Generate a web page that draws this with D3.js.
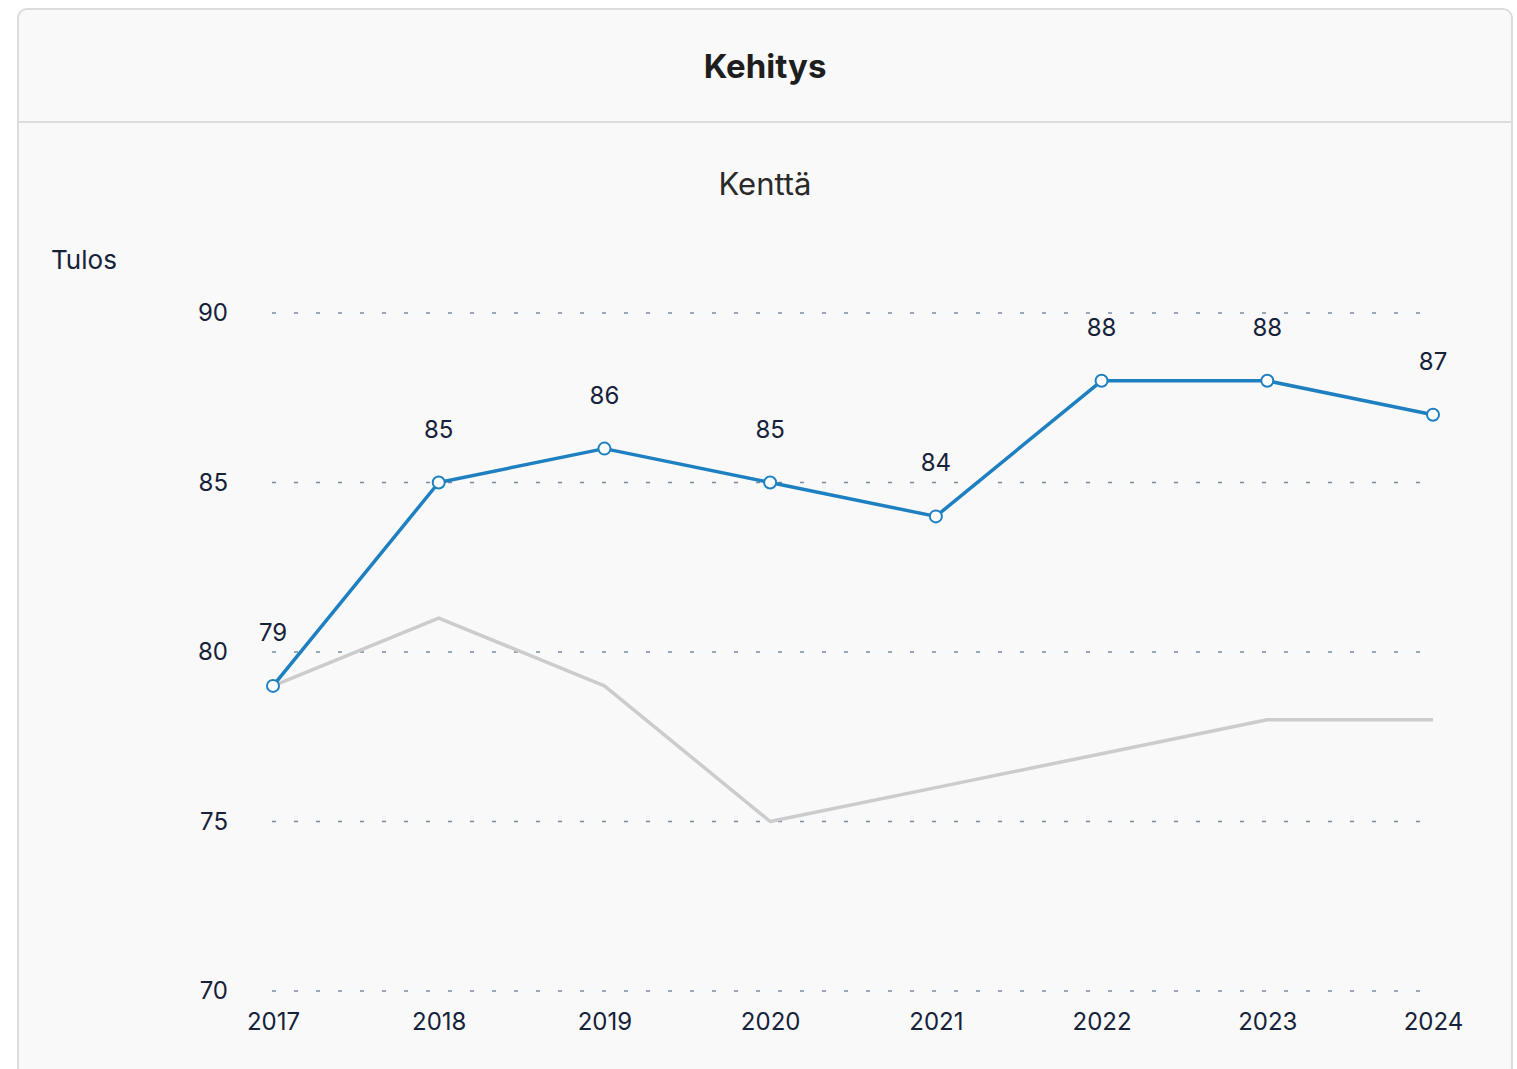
<!DOCTYPE html>
<html>
<head>
<meta charset="utf-8">
<script src="https://cdn.jsdelivr.net/npm/d3@7"></script>
<style>
  html, body { margin: 0; padding: 0; background: #fff; overflow: hidden; }
  body { width: 1517px; height: 1069px; font-family: Inter, "Noto Sans", sans-serif; }
  .card {
    position: absolute; left: 17px; top: 8px; width: 1496px; height: 1100px;
    background: #f9f9f9; border: 2px solid #dcdcdc; border-radius: 10px; box-sizing: border-box;
  }
  .card-head {
    height: 111px; border-bottom: 2px solid #dcdcdc; display: flex; align-items: center; justify-content: center;
    font-weight: 700; font-size: 33px; color: #1e1e1e;
  }
  svg { position: absolute; left: 0; top: 0; }
</style>
</head>
<body>
<div class="card"><div class="card-head">Kehitys</div></div>
<div id="chart"></div>
<script>
// data
var years = ["2017", "2018", "2019", "2020", "2021", "2022", "2023", "2024"];
var kentta = [79, 85, 86, 85, 84, 88, 88, 87];
var vertailu = [79, 81, 79, 75, 76, 77, 78, 78];
var yTicks = [70, 75, 80, 85, 90];

var W = 1517, H = 1069;
var svg = d3.select("#chart").append("svg")
    .attr("width", W)
    .attr("height", H);

var x = d3.scalePoint().domain(years).range([273, 1433]);
var y = d3.scaleLinear().domain([70, 90]).range([991, 313]);

// subtitle and axis title
svg.append("text")
    .attr("x", 765).attr("y", 195)
    .attr("text-anchor", "middle")
    .style("font-size", "31px").style("fill", "#2a2a2a")
    .text("Kenttä");

svg.append("text")
    .attr("x", 51).attr("y", 269)
    .style("font-size", "26px").style("fill", "#16223a")
    .text("Tulos");

// grid lines
svg.append("g").selectAll("line")
    .data(yTicks)
    .enter().append("line")
    .attr("x1", 272).attr("x2", 1436)
    .attr("y1", function(d) { return y(d); })
    .attr("y2", function(d) { return y(d); })
    .attr("stroke", "#7d8ba3")
    .attr("stroke-width", 1.5)
    .attr("stroke-dasharray", "4,18");

// y axis
var yAxis = svg.append("g")
    .attr("transform", "translate(228,0)")
    .call(d3.axisLeft(y).tickValues(yTicks).tickSize(0).tickPadding(0));
yAxis.select(".domain").remove();
yAxis.selectAll("text")
    .style("font-family", "Inter, sans-serif")
    .style("font-size", "24px")
    .style("fill", "#16223a");

// x axis
var xAxis = svg.append("g")
    .attr("transform", "translate(0,1013)")
    .call(d3.axisBottom(x).tickSize(0).tickPadding(0));
xAxis.select(".domain").remove();
xAxis.selectAll("text")
    .style("font-family", "Inter, sans-serif")
    .style("font-size", "24px")
    .style("fill", "#16223a");

var line = d3.line()
    .x(function(d, i) { return x(years[i]); })
    .y(function(d) { return y(d); });

// comparison series (grey)
svg.append("path")
    .datum(vertailu)
    .attr("d", line)
    .attr("fill", "none")
    .attr("stroke", "#cccccc")
    .attr("stroke-width", 3.5)
    .attr("stroke-linejoin", "round");

// main series
svg.append("path")
    .datum(kentta)
    .attr("d", line)
    .attr("fill", "none")
    .attr("stroke", "#1f80c1")
    .attr("stroke-width", 3.5)
    .attr("stroke-linejoin", "round");

svg.append("g").selectAll("circle")
    .data(kentta)
    .enter().append("circle")
    .attr("cx", function(d, i) { return x(years[i]); })
    .attr("cy", function(d) { return y(d); })
    .attr("r", 6)
    .attr("fill", "#ffffff")
    .attr("stroke", "#1f80c1")
    .attr("stroke-width", 2);

// data labels
svg.append("g").selectAll("text")
    .data(kentta)
    .enter().append("text")
    .attr("x", function(d, i) { return x(years[i]); })
    .attr("y", function(d) { return y(d) - 45; })
    .attr("text-anchor", "middle")
    .style("font-size", "24px")
    .style("fill", "#16223a")
    .text(function(d) { return d; });
</script>
</body>
</html>
